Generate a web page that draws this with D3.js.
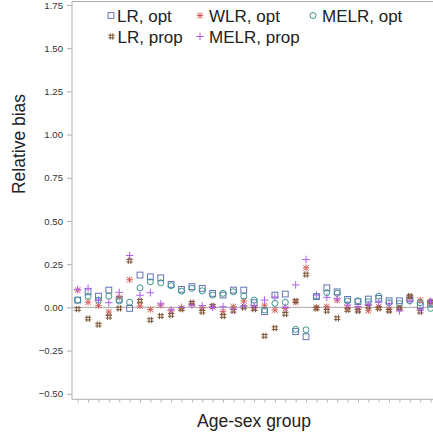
<!DOCTYPE html>
<html>
<head>
<meta charset="utf-8">
<script src="https://cdn.jsdelivr.net/npm/d3@7"></script>
<style>
  body { margin: 0; background: #fff; }
  text { font-family: "Liberation Sans", Arial, sans-serif; }
</style>
</head>
<body>
<div id="chart"></div>
<script>
var groups = d3.range(1, 36);

// relative bias per age-sex group
var lrOpt   = [0.042,0.09,0.065,0.10,0.046,-0.006,0.187,0.177,0.171,0.133,0.104,0.12,0.11,0.081,0.071,0.10,0.10,0.027,-0.025,0.071,0.077,-0.14,-0.17,0.062,0.113,0.09,0.046,0.033,0.048,0.052,0.038,0.038,0.05,0.01,0.023];
var wlrOpt  = [0.10,0.03,0.01,-0.027,0.058,0.16,0.008,-0.012,0.013,-0.02,-0.004,0.019,-0.004,0.004,-0.025,0.004,0.037,-0.002,0.013,-0.015,-0.006,0.03,0.229,0.0,0.004,0.042,0.0,-0.01,-0.019,0.004,-0.01,-0.005,0.058,0.042,0.03];
var melrOpt = [0.042,0.065,0.042,0.065,0.037,0.03,0.113,0.148,0.142,0.125,0.094,0.11,0.096,0.071,0.081,0.09,0.065,0.042,-0.015,0.023,0.029,-0.127,-0.13,0.065,0.085,0.081,0.037,0.038,0.033,0.065,0.027,0.023,0.038,0.027,-0.006];
var lrProp  = [-0.01,-0.065,-0.10,-0.054,-0.006,0.27,0.037,-0.073,-0.05,-0.044,-0.01,0.027,-0.025,0.008,-0.05,-0.02,0.0,-0.01,-0.165,-0.12,-0.038,0.037,0.19,-0.006,-0.02,-0.063,-0.015,-0.02,0.004,-0.006,-0.02,-0.006,0.065,-0.025,0.033];
var melrProp= [0.104,0.11,0.04,0.027,0.087,0.30,0.07,0.085,0.02,-0.015,0.0,0.013,0.01,0.0,0.004,-0.01,0.008,0.008,0.042,0.06,0.0,0.13,0.277,0.071,0.058,0.05,0.013,0.004,0.017,0.029,0.02,-0.02,0.037,-0.015,0.035];
var yTicks = [-0.50,-0.25,0.00,0.25,0.50,0.75,1.00,1.25,1.50,1.75];

var W = 433, H = 439;
var svg = d3.select("#chart").append("svg")
    .attr("width", W).attr("height", H);

var x = d3.scaleLinear().domain([0.5, 35.5]).range([72.5, 435.8]);
var y = d3.scaleLinear().domain([-0.532, 1.77]).range([399.3, 1.5]);

// symbols
function sym(type, g, color) {
  if (type == "square") {
    g.append("rect").attr("x", -2.9).attr("y", -2.9).attr("width", 5.8).attr("height", 5.8)
      .attr("fill", "none").attr("stroke", color);
  } else if (type == "circle") {
    g.append("circle").attr("r", 3).attr("fill", "none").attr("stroke", color);
  } else if (type == "star") {
    g.append("path").attr("d", "M-2.8,-2.8L2.8,2.8M-2.8,2.8L2.8,-2.8M0,-3.3L0,3.3M-3.3,0L3.3,0")
      .attr("stroke", color).attr("fill", "none");
  } else if (type == "hash") {
    g.append("path").attr("d", "M-1.3,-3.2L-1.3,3.2M1.3,-3.2L1.3,3.2M-3.2,-1.3L3.2,-1.3M-3.2,1.3L3.2,1.3")
      .attr("stroke", color).attr("fill", "none");
  } else if (type == "plus") {
    g.append("path").attr("d", "M0,-3.8L0,3.8M-3.8,0L3.8,0")
      .attr("stroke", color).attr("fill", "none");
  }
}

var series = [
  {name: "LR, opt",   vals: lrOpt,   type: "square", color: "#6372b5"},
  {name: "WLR, opt",  vals: wlrOpt,  type: "star",   color: "#d2605a"},
  {name: "MELR, opt", vals: melrOpt, type: "circle", color: "#3a978a"},
  {name: "LR, prop",  vals: lrProp,  type: "hash",   color: "#7a5535"},
  {name: "MELR, prop",vals: melrProp,type: "plus",   color: "#b060ee"}
];

// frame
svg.append("line").attr("x1", 72).attr("x2", W).attr("y1", 1.5).attr("y2", 1.5)
  .attr("stroke", "#b0b0b0");
svg.append("line").attr("x1", 72).attr("x2", 72).attr("y1", 1.5).attr("y2", 399.3)
  .attr("stroke", "#b0b0b0");
svg.append("line").attr("x1", 72).attr("x2", W).attr("y1", 399.3).attr("y2", 399.3)
  .attr("stroke", "#b0b0b0");

// zero line
svg.append("line").attr("x1", 72).attr("x2", W).attr("y1", y(0)).attr("y2", y(0))
  .attr("stroke", "#a8a8a8");

// y axis
var yAxis = d3.axisLeft(y).tickValues(yTicks).tickFormat(d3.format(".2f")).tickSize(5).tickPadding(4);
var ya = svg.append("g").attr("transform", "translate(72,0)").call(yAxis);
ya.select(".domain").remove();
ya.selectAll("line").attr("stroke", "#b0b0b0");
ya.selectAll("text").attr("font-size", "9.6px").attr("fill", "#333")
  .attr("font-family", "'Liberation Sans', Arial, sans-serif");

// x axis ticks
var xAxis = d3.axisBottom(x).tickValues(groups).tickFormat("").tickSize(3);
var xa = svg.append("g").attr("transform", "translate(0,399.3)").call(xAxis);
xa.select(".domain").remove();
xa.selectAll("line").attr("stroke", "#b0b0b0");

// points
series.forEach(function(s) {
  svg.append("g").selectAll("g")
    .data(s.vals)
    .enter()
    .append("g")
    .attr("transform", function(d, i) { return "translate(" + x(groups[i]) + "," + y(d) + ")"; })
    .each(function() { sym(s.type, d3.select(this), s.color); });
});

// legend
var legPos = [[111, 15.5], [200, 15.5], [313, 15.5], [111.5, 36.5], [200, 36.5]];
series.forEach(function(s, i) {
  var lg = svg.append("g").attr("transform", "translate(" + legPos[i][0] + "," + legPos[i][1] + ")");
  sym(s.type, lg, s.color);
  lg.append("text").attr("x", i == 0 || i == 3 ? 6 : 9).attr("y", 6.3)
    .attr("font-size", "17px").attr("fill", "#222").text(s.name);
});

// axis labels
svg.append("text").attr("x", 254).attr("y", 426.7).attr("text-anchor", "middle")
  .attr("font-size", "17.5px").attr("fill", "#222").text("Age-sex group");
svg.append("text").attr("transform", "translate(25,144) rotate(-90)").attr("text-anchor", "middle")
  .attr("font-size", "17.5px").attr("fill", "#222").text("Relative bias");
</script>
</body>
</html>
